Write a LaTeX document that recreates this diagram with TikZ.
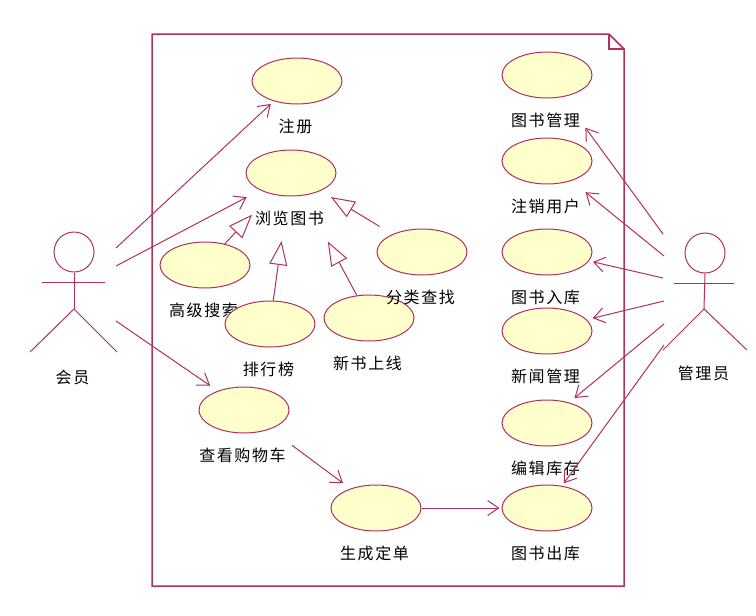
\documentclass[tikz,border=0pt]{standalone}
\usepackage{fontspec}
\newfontfamily\cjkfont[LetterSpace=10]{Noto Sans CJK SC}
\usetikzlibrary{positioning, arrows.meta, backgrounds, shapes.geometric}
\definecolor{umlline}{HTML}{B0305F}
\definecolor{umlfill}{HTML}{FFFFCC}

\begin{document}
\begin{tikzpicture}[
  x=1pt, y=-1pt,
  useCase/.style={draw=umlline, line width=1pt, fill=umlfill, ellipse, minimum width=90pt, minimum height=46pt, inner sep=0pt},
  caseLabel/.style={font=\fontsize{16}{16}\cjkfont, text=black, inner sep=0pt, xshift=-1.5pt, below=14pt of #1},
  actorHead/.style={draw=umlline, line width=1pt, circle, minimum size=40pt, inner sep=0pt},
  actorLine/.style={draw=umlline, line width=1pt},
  assoc/.style={-{Straight Barb[length=11pt, width=15pt]}, line width=1pt, draw=umlline},
  inherit/.style={-{Triangle[open, length=24pt, width=18pt]}, line width=1pt, draw=umlline}
]
\useasboundingbox (0,0) rectangle (756,616);

% System frame
\draw[draw=umlline, line width=1.5pt] (152,34) -- (609,34) -- (624,49) -- (624,586) -- (152,586) -- cycle;
\draw[draw=umlline, line width=1.5pt] (609,34) -- (609,49) -- (624,49);

% Member side
\node[useCase] (regist) at (297,81) {};
\node[useCase] (browse) at (291,173) {};
\node[useCase] (advSearch) at (205,265) {};
\node[useCase] (category) at (422,252) {};
\node[useCase] (ranking) at (270,324) {};
\node[useCase] (newBook) at (369,318) {};
\node[useCase] (cart) at (244,410) {};
\node[useCase] (order) at (376,508) {};

% Admin side
\node[useCase] (bookMgr) at (547,75) {};
\node[useCase] (userDel) at (547,161) {};
\node[useCase] (stockIn) at (547,252) {};
\node[useCase] (newsMgr) at (547,331) {};
\node[useCase] (stockEdit) at (547,423) {};
\node[useCase] (stockOut) at (547,508) {};

% Labels stay behind the ellipses
\begin{scope}[on background layer]
  \node[caseLabel=regist] (registText) {注册};
  \node[caseLabel=browse] (browseText) {浏览图书};
  \node[caseLabel=advSearch] (advSearchText) {高级搜索};
  \node[caseLabel=ranking] (rankingText) {排行榜};
  \node[caseLabel=newBook] (newBookText) {新书上线};
  \node[caseLabel=cart] (cartText) {查看购物车};
  \node[caseLabel=order] (orderText) {生成定单};
  \node[caseLabel=bookMgr] (bookMgrText) {图书管理};
  \node[caseLabel=userDel] (userDelText) {注销用户};
  \node[caseLabel=stockIn] (stockInText) {图书入库};
  \node[caseLabel=newsMgr] (newsMgrText) {新闻管理};
  \node[caseLabel=stockEdit] (stockEditText) {编辑库存};
  \node[caseLabel=stockOut] (stockOutText) {图书出库};
\end{scope}
\node[caseLabel=category] (categoryText) {分类查找};

% Actors
\node[actorHead] (memberHead) at (74,252) {};
\coordinate (memberHip) at (74,309);
\draw[actorLine] (memberHead.south) -- (memberHip);
\draw[actorLine] (42,282) -- (105,282);
\draw[actorLine] (30,352) -- (memberHip) -- (117,352);
\node[caseLabel=memberHead, yshift=-83pt] (memberText) {会员};

\node[actorHead] (adminHead) at (705,253) {};
\coordinate (adminHip) at (704,309);
\draw[actorLine] (adminHead.south) -- (adminHip);
\draw[actorLine] (674,283) -- (734,283);
\draw[actorLine] (663,350) -- (adminHip) -- (747,350);
\node[caseLabel=adminHead, yshift=-78pt] (adminText) {管理员};

% Free ends beside the actors
\coordinate (memberA) at (116,248);
\coordinate (memberB) at (116,266);
\coordinate (memberC) at (116,321);
\coordinate (adminA) at (663,234);
\coordinate (adminB) at (664,256);
\coordinate (adminC) at (663,278);
\coordinate (adminD) at (664,301);
\coordinate (adminE) at (664,324);
\coordinate (adminF) at (664,345);

% Associations
\draw[assoc, shorten >=4pt] (memberA) -- (regist.221);
\draw[assoc, shorten >=15pt] (memberB) -- (browse.209);
\draw[assoc, shorten >=9pt] (memberC) -- (cart.144);
\draw[assoc, shorten <=27pt, shorten >=9pt] (cart.324) -- (order.143);
\draw[assoc, shorten >=2pt] (order) -- (stockOut);

\draw[assoc, shorten >=38pt] (adminA) -- (bookMgr.-54);
\draw[assoc, shorten >=18pt] (adminB) -- (userDel.-39);
\draw[assoc, shorten >=4pt] (adminC) -- (stockIn.-12);
\draw[assoc, shorten >=6pt] (adminD) -- (newsMgr.16);
\draw[assoc, shorten >=7pt] (adminE) -- (stockEdit.43);
\draw[assoc, shorten >=3pt] (adminF) -- (stockOut.56);

% Generalizations
\draw[inherit, shorten >=28pt] (advSearch) -- (browse);
\draw[inherit, shorten >=45pt] (ranking) -- (browse);
\draw[inherit, shorten >=52pt] (newBook) -- (browse);
\draw[inherit, shorten <=15pt, shorten >=12pt] (category) -- (browse);

\end{tikzpicture}
\end{document}
